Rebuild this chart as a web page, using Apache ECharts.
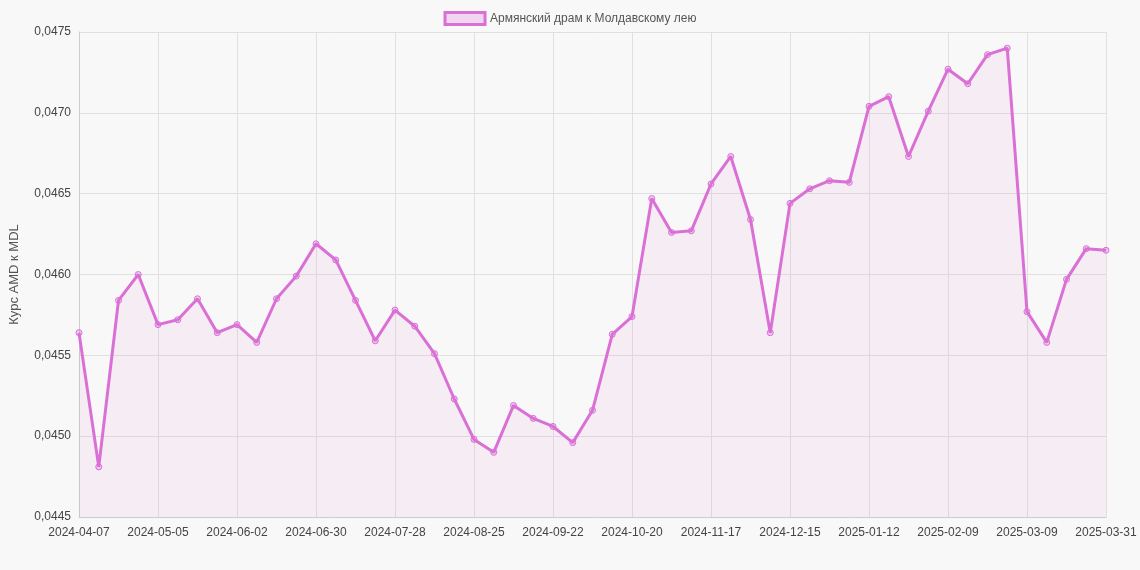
<!DOCTYPE html>
<html><head><meta charset="utf-8">
<script src="https://cdn.jsdelivr.net/npm/echarts@6/dist/echarts.min.js"></script>
<style>html,body{margin:0;background:#f8f8f8}#main{width:1140px;height:570px}</style>
</head><body><div id="main"></div>
<script>
var dates = ['2024-04-07','2024-04-14','2024-04-21','2024-04-28','2024-05-05','2024-05-12','2024-05-19','2024-05-26',
 '2024-06-02','2024-06-09','2024-06-16','2024-06-23','2024-06-30','2024-07-07','2024-07-14','2024-07-21',
 '2024-07-28','2024-08-04','2024-08-11','2024-08-18','2024-08-25','2024-09-01','2024-09-08','2024-09-15',
 '2024-09-22','2024-09-29','2024-10-06','2024-10-13','2024-10-20','2024-10-27','2024-11-03','2024-11-10',
 '2024-11-17','2024-11-24','2024-12-01','2024-12-08','2024-12-15','2024-12-22','2024-12-29','2025-01-05',
 '2025-01-12','2025-01-19','2025-01-26','2025-02-02','2025-02-09','2025-02-16','2025-02-23','2025-03-02',
 '2025-03-09','2025-03-16','2025-03-23','2025-03-30','2025-03-31'];
var rates = [0.04564,0.04481,0.04584,0.04600,0.04569,0.04572,0.04585,0.04564,
 0.04569,0.04558,0.04585,0.04599,0.04619,0.04609,0.04584,0.04559,
 0.04578,0.04568,0.04551,0.04523,0.04498,0.04490,0.04519,0.04511,
 0.04506,0.04496,0.04516,0.04563,0.04574,0.04647,0.04626,0.04627,
 0.04656,0.04673,0.04634,0.04564,0.04644,0.04653,0.04658,0.04657,
 0.04704,0.04710,0.04673,0.04701,0.04727,0.04718,0.04736,0.04740,
 0.04577,0.04558,0.04597,0.04616,0.04615];
var seriesName = 'Армянский драм к Молдавскому лею';

var chart = echarts.init(document.getElementById('main'));
chart.setOption({
  backgroundColor: '#f8f8f8',
  textStyle: {fontFamily: 'Liberation Sans, Arial, sans-serif'},
  legend: {top: 6, itemWidth: 40, itemHeight: 12, icon: 'rect',
    textStyle: {color: '#555', fontSize: 12},
    data: [{name: seriesName, itemStyle: {color: 'rgba(218,112,214,0.25)', borderColor: '#da70d6', borderWidth: 3}}]},
  grid: {left: 75, right: 34, top: 32, bottom: 53},
  xAxis: {type: 'category', boundaryGap: false, data: dates,
    axisLine: {lineStyle: {color: '#ccc'}}, axisTick: {show: false},
    axisLabel: {color: '#444', fontSize: 12, interval: 3, margin: 10},
    splitLine: {show: true, interval: 3, lineStyle: {color: '#e0e0e0'}}},
  yAxis: {type: 'value', min: 0.0445, max: 0.0475, interval: 0.0005,
    name: 'Курс AMD к MDL', nameLocation: 'middle', nameGap: 58,
    nameTextStyle: {color: '#555', fontSize: 13},
    axisLine: {show: true, lineStyle: {color: '#ccc'}},
    axisLabel: {color: '#444', fontSize: 12, formatter: function(v){return v.toFixed(4).replace('.', ',');}},
    splitLine: {lineStyle: {color: '#e0e0e0'}}},
  series: [{name: seriesName, type: 'line', data: rates,
    symbol: 'circle', symbolSize: 6, showAllSymbol: true,
    itemStyle: {color: 'rgba(218,112,214,0.3)', borderColor: '#da70d6', borderWidth: 1},
    lineStyle: {color: '#da70d6', width: 3},
    areaStyle: {color: 'rgba(218,112,214,0.12)'}}]
});
</script></body></html>
